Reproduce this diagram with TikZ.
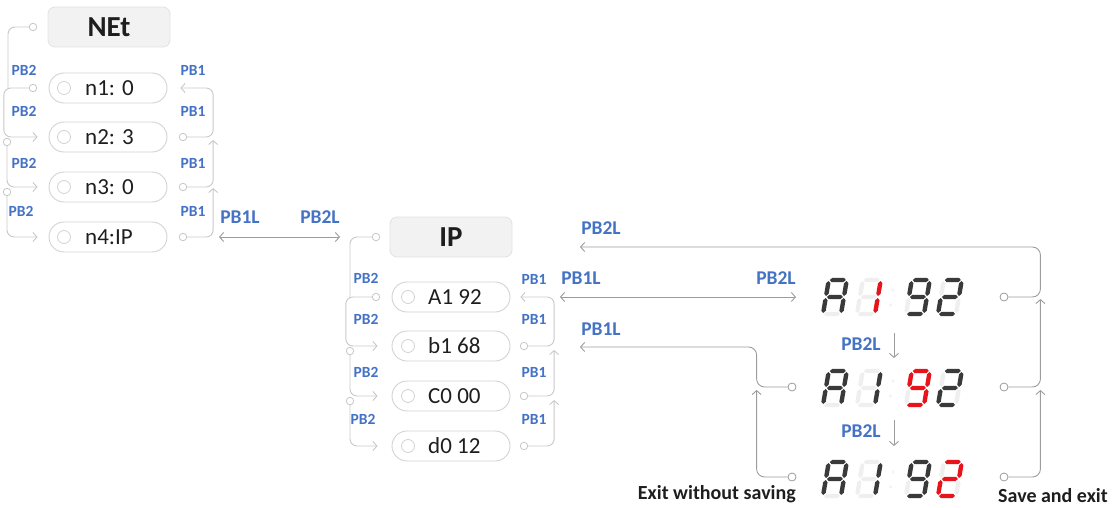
\documentclass[tikz,border=0pt]{standalone}
\usepackage{fontspec}
\setmainfont{Carlito}
\usetikzlibrary{arrows.meta}
\definecolor{labblue}{HTML}{4472C4}
\definecolor{lgray}{HTML}{C8C8C8}
\definecolor{mgray}{HTML}{9C9C9C}
\definecolor{pillgray}{HTML}{D2D2D2}
\definecolor{hdrfill}{HTML}{F2F2F2}
\definecolor{hdrdraw}{HTML}{E2E2E2}
\definecolor{segon}{HTML}{3A3A3A}
\definecolor{segoff}{HTML}{EFEFEF}
\definecolor{segred}{HTML}{E8141C}
\definecolor{txtdark}{HTML}{1E1E1E}
\newcommand\hsg[4]{\fill[#4] (#1,#3) -- (#1+2.2,#3+2.2) -- (#2-2.2,#3+2.2) -- (#2,#3) -- (#2-2.2,#3-2.2) -- (#1+2.2,#3-2.2) -- cycle;}
\newcommand\vsg[4]{\fill[#4] (#1,#2) -- (#1+2.2,#2+2.2) -- (#1+2.2,#3-2.2) -- (#1,#3) -- (#1-2.2,#3-2.2) -- (#1-2.2,#2+2.2) -- cycle;}
\newcommand\sevdig[9]{\begin{scope}[shift={(#1,#2)},y=1pt,xslant=0.17]
 \hsg{1}{17}{34}{#3}
 \vsg{18}{18}{33}{#4}
 \vsg{18}{1}{16}{#5}
 \hsg{1}{17}{0}{#6}
 \vsg{0}{1}{16}{#7}
 \vsg{0}{18}{33}{#8}
 \hsg{1}{17}{17}{#9}
\end{scope}}
\newcommand\dgA[3]{\sevdig{#1}{#2}{#3}{#3}{#3}{segoff}{#3}{#3}{#3}}
\newcommand\dgOne[3]{\sevdig{#1}{#2}{segoff}{#3}{#3}{segoff}{segoff}{segoff}{segoff}}
\newcommand\dgNine[3]{\sevdig{#1}{#2}{#3}{#3}{#3}{#3}{segoff}{#3}{#3}}
\newcommand\dgTwo[3]{\sevdig{#1}{#2}{#3}{#3}{segoff}{#3}{#3}{segoff}{#3}}
\newcommand\dcolon[1]{\fill[segoff!80!gray!30] (893,#1-6) circle (1.8); \fill[segoff!80!gray!30] (890.5,#1+9) circle (1.8);}
\begin{document}
\begin{tikzpicture}[x=1pt,y=-1pt,
  lab/.style={font=\fontsize{15.5}{16}\selectfont\bfseries, text=labblue, inner sep=0},
  biglab/.style={font=\fontsize{19.5}{20}\selectfont\bfseries, text=labblue, inner sep=0},
  blk/.style={font=\fontsize{20}{20}\selectfont\bfseries, text=txtdark, inner sep=0},
  hdr/.style={fill=hdrfill, draw=hdrdraw, line width=0.8pt, rounded corners=7pt, minimum width=122pt, minimum height=40pt, font=\fontsize{29}{29}\selectfont\bfseries, text=txtdark},
  pill/.style={draw=pillgray, line width=0.9pt, rounded corners=15pt, minimum width=118pt, minimum height=30pt},
  inner/.style={circle, draw=pillgray, line width=0.8pt, minimum size=13pt, inner sep=0},
  ptxt/.style={font=\fontsize{23}{23}\selectfont, text=txtdark, inner sep=0, anchor=west},
  dotl/.style={circle, draw=lgray, fill=white, line width=0.8pt, minimum size=7.5pt, inner sep=0},
  dotm/.style={circle, draw=mgray, fill=white, line width=0.8pt, minimum size=8pt, inner sep=0},
  connl/.style={draw=lgray, line width=0.9pt, rounded corners=7pt},
  connm/.style={draw=mgray, line width=0.9pt, rounded corners=8pt},
  arr/.style={-{Straight Barb[length=4pt,width=9pt]}},
  darr/.style={{Straight Barb[length=4pt,width=9pt]}-{Straight Barb[length=4pt,width=9pt]}}
]
\useasboundingbox (0,0) rectangle (1118,508);

% ---------- NEt block ----------
\node[hdr] (net) at (109,27) {NEt};
\foreach \i/\y/\t in {1/88/{n1: 0},2/137/{n2: 3},3/187/{n3: 0},4/237/{n4:IP}}{
  \node[pill] (n\i) at (108,\y) {};
  \node[inner] (ni\i) at (64,\y) {};
  \node[ptxt] (nt\i) at (85,\y) {\t};
}
\node[dotl] (h1) at (33,27) {};
\node[dotl] (l1) at (33,88) {};
\node[dotl] (l2) at (7,142) {};
\node[dotl] (l3) at (7,192) {};
\node[dotl] (r2) at (183,137) {};
\node[dotl] (r3) at (183,187) {};
\node[dotl] (r4) at (183,237) {};
\coordinate (h1e) at (8,88);
\draw[connl] (h1.west) -| (h1e);
\draw[connl,arr,shorten >=11pt] (l1.west) -- ++(-25,0) |- (n2.west);
\draw[connl,arr,shorten >=11pt] (l2.south) |- (n3.west);
\draw[connl,arr,shorten >=11pt] (l3.south) |- (n4.west);
\draw[connl,arr,shorten >=13pt] (r2.east) -- ++(26,0) |- (n1.east);
\draw[connl,arr] (r3.east) -- ++(26,0) -- ++(0,-47);
\draw[connl,arr] (r4.east) -- ++(26,0) -- ++(0,-49);
\foreach \x/\y [count=\k] in {24/70,24/111,24/163,21/211}{\node[lab] (pbl\k) at (\x,\y) {PB2};}
\foreach \y [count=\k] in {70,111,163,211}{\node[lab] (pbr\k) at (193,\y) {PB1};}

% ---------- link ----------
\coordinate (la) at (219,237);
\coordinate (lb) at (340,237);
\draw[draw=mgray, line width=0.9pt, darr] (la) -- (lb);
\node[biglab] (lk1) at (240,217) {PB1L};
\node[biglab] (lk2) at (320,217) {PB2L};

% ---------- IP block ----------
\node[hdr] (ip) at (451,237) {IP};
\foreach \i/\y/\t in {1/297/{A1 92},2/346/{b1 68},3/396/{C0 00},4/446/{d0 12}}{
  \node[pill] (p\i) at (451,\y) {};
  \node[inner] (pi\i) at (408,\y) {};
  \node[ptxt] (pt\i) at (428,\y) {\t};
}
\node[dotl] (h2) at (376,237) {};
\node[dotl] (il1) at (376,297) {};
\node[dotl] (il2) at (350,351) {};
\node[dotl] (il3) at (350,401) {};
\node[dotl] (ir2) at (524,346) {};
\node[dotl] (ir3) at (524,396) {};
\node[dotl] (ir4) at (524,446) {};
\coordinate (h2e) at (350,297);
\draw[connl] (h2.west) -| (h2e);
\draw[connl,arr,shorten >=14pt] (il1.west) -- ++(-26,0) |- (p2.west);
\draw[connl,arr,shorten >=14pt] (il2.south) |- (p3.west);
\draw[connl,arr,shorten >=14pt] (il3.south) |- (p4.west);
\draw[connl,arr,shorten >=10pt] (ir2.east) -- ++(26,0) |- (p1.east);
\draw[connl,arr] (ir3.east) -- ++(26,0) -- ++(0,-46);
\draw[connl,arr] (ir4.east) -- ++(26,0) -- ++(0,-46);
\foreach \x/\y [count=\k] in {366/278,366/319,366/372,363/419}{\node[lab] (ipl\k) at (\x,\y) {PB2};}
\foreach \y [count=\k] in {279,319,372,419}{\node[lab] (ipr\k) at (534,\y) {PB1};}

% ---------- displays ----------
\dgA{823}{314}{segon}\dgOne{857}{314}{segred}\dcolon{296}\dgNine{906}{314}{segon}\dgTwo{938}{314}{segon}
\dgA{823}{405}{segon}\dgOne{857}{405}{segon}\dcolon{387}\dgNine{906}{405}{segred}\dgTwo{938}{405}{segon}
\dgA{823}{496}{segon}\dgOne{857}{496}{segon}\dcolon{478}\dgNine{906}{496}{segon}\dgTwo{938}{496}{segred}

\node[dotm] (d1r) at (1004,297) {};
\node[dotm] (d2r) at (1004,387) {};
\node[dotm] (d3r) at (1004,477) {};
\node[dotm] (d2l) at (792,387) {};
\node[dotm] (d3l) at (792,477) {};
\coordinate (ta) at (580,247);
\coordinate (tb) at (560,297);
\coordinate (tc) at (796,297);
\coordinate (td) at (580,347);
\draw[connm,arr] (d1r.east) -- ++(32,0) |- (ta);
\draw[draw=mgray, line width=0.9pt, darr] (tb) -- (tc);
\draw[connm,arr] (d2l.west) -- ++(-31,0) |- (td);
\draw[connm,arr] (d3l.west) -- ++(-31,0) -- ++(0,-87);
\draw[connm,arr] (d2r.east) -- ++(32,0) -- ++(0,-88);
\draw[connm,arr] (d3r.east) -- ++(32,0) -- ++(0,-87);
\node[biglab] (q1) at (601,228) {PB2L};
\node[biglab] (q2) at (581,278) {PB1L};
\node[biglab] (q3) at (776,278) {PB2L};
\node[biglab] (q4) at (601,329) {PB1L};
\node[biglab] (q5) at (861,344) {PB2L};
\node[biglab] (q6) at (861,431) {PB2L};
\coordinate (s1a) at (894,333);
\coordinate (s1b) at (894,358);
\coordinate (s2a) at (894,420);
\coordinate (s2b) at (894,446);
\draw[draw=mgray, line width=0.9pt, arr] (s1a) -- (s1b);
\draw[draw=mgray, line width=0.9pt, arr] (s2a) -- (s2b);
\node[blk, anchor=east] (ex1) at (796,494) {Exit without saving};
\node[blk, anchor=west] (ex2) at (998,496) {Save and exit};
\end{tikzpicture}
\end{document}
